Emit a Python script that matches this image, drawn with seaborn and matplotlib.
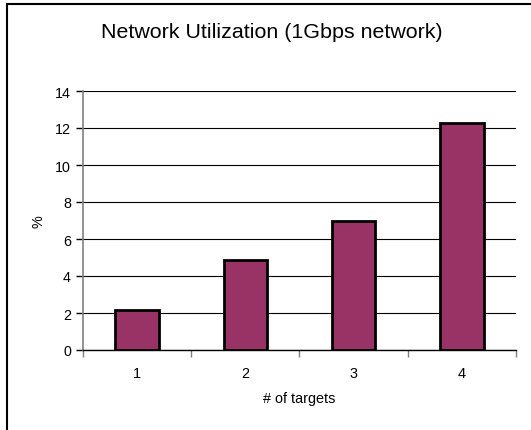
import matplotlib
matplotlib.use("Agg")
import matplotlib.pyplot as plt
from matplotlib.patches import Rectangle
import seaborn as sns
import pandas as pd

# Network utilisation per number of targets
targets = ["1", "2", "3", "4"]
utilization = [2.15, 4.88, 7.0, 12.25]
y_ticks = [0, 2, 4, 6, 8, 10, 12, 14]

df = pd.DataFrame({"targets": targets, "utilization": utilization})

sns.set_theme(style="white")
plt.rcParams["font.family"] = ["Liberation Sans", "DejaVu Sans"]

fig = plt.figure(figsize=(5.31, 4.31), dpi=100)
ax = fig.add_axes([82.7 / 531, 1 - 351 / 431, (516 - 82.7) / 531, (351 - 92) / 431])

sns.barplot(data=df, x="targets", y="utilization", ax=ax, color="#993366",
            saturation=1, width=0.4, edgecolor="black", linewidth=2.0)

ax.set_xlim(-0.5, len(targets) - 0.5)
ax.set_ylim(0, 14)
ax.set_yticks(y_ticks)
ax.set_yticklabels([str(t) for t in y_ticks])

# Category boundaries carry the tick marks, centres carry the labels
ax.set_xticks([i - 0.5 for i in range(len(targets) + 1)])
ax.set_xticklabels([])
ax.set_xticks(range(len(targets)), minor=True)
ax.set_xticklabels(targets, minor=True)
ax.tick_params(axis="x", which="major", direction="out", length=5, width=1,
               color="#808080", bottom=True)
ax.tick_params(axis="x", which="minor", length=0, pad=11.5, labelsize=10.4,
               labelcolor="black")
ax.tick_params(axis="y", direction="out", length=5, width=1, color="black",
               left=True, pad=3.5, labelsize=10.3, labelcolor="black")

ax.set_axisbelow(True)
ax.yaxis.grid(True, color="black", linewidth=0.8)
ax.xaxis.grid(False)

for side in ("top", "right"):
    ax.spines[side].set_visible(False)
ax.spines["left"].set_color("#808080")
ax.spines["left"].set_linewidth(1.2)
ax.spines["bottom"].set_color("black")
ax.spines["bottom"].set_linewidth(1.0)

ax.set_xlabel("# of targets", fontsize=10.4, labelpad=8, color="black")
ax.set_ylabel("%", fontsize=10.4, labelpad=7, color="black")

fig.text(272 / 531, 1 - 32 / 431, "Network Utilization (1Gbps network)",
         ha="center", va="center", fontsize=15.4, color="black")

# Chart frame
fig.add_artist(Rectangle((6.5 / 531, -0.2), 1.2, 1.2 - 4.5 / 431,
                         transform=fig.transFigure, fill=False,
                         edgecolor="black", linewidth=1.5))

fig.savefig("out.png", dpi=100, facecolor="white")
